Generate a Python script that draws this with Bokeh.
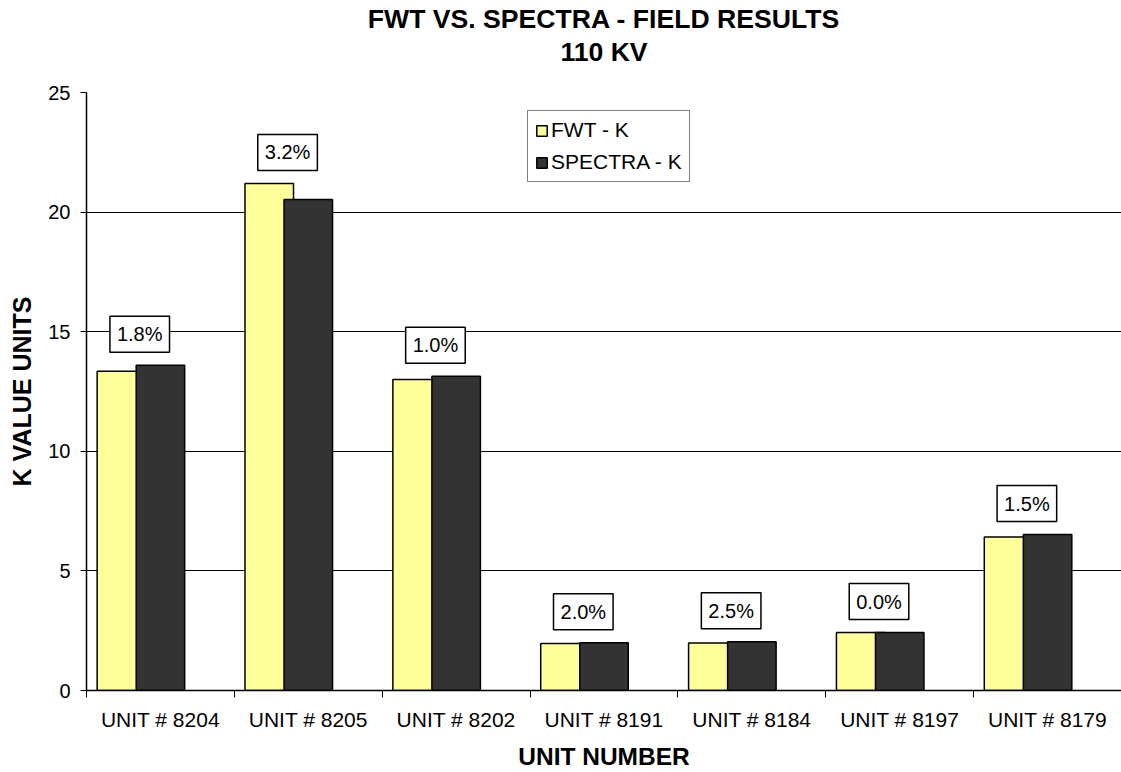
from bokeh.plotting import figure
from bokeh.models import (ColumnDataSource, FixedTicker, Label, Legend, LegendItem,
                          LinearAxis, Range1d, Title)
from bokeh.embed import file_html
from bokeh.resources import INLINE

# --- data -------------------------------------------------------------
units = ["UNIT # 8204", "UNIT # 8205", "UNIT # 8202", "UNIT # 8191",
         "UNIT # 8184", "UNIT # 8197", "UNIT # 8179"]
fwt_k = [13.35, 21.20, 13.00, 1.96, 1.99, 2.42, 6.42]
spectra_k = [13.60, 20.53, 13.14, 2.00, 2.04, 2.42, 6.52]
diff_labels = ["1.8%", "3.2%", "1.0%", "2.0%", "2.5%", "0.0%", "1.5%"]
y_ticks = [0, 5, 10, 15, 20, 25]
title_lines = ["FWT VS. SPECTRA - FIELD RESULTS", "110 KV"]

# --- styling constants --------------------------------------------------
FONT = "Liberation Sans"
FWT_COLOR = "#FFFF99"
SPECTRA_COLOR = "#333333"
BAR_W = 0.328          # bar width in category units
FWT_SHIFT = -0.264     # FWT bar sits left of the category centre
LABEL_SHIFT = -0.14    # difference label centred over the pair

n = len(units)
centers = [i + 0.5 for i in range(n)]

src = ColumnDataSource(dict(
    fwt_x=[c + FWT_SHIFT for c in centers],
    spec_x=centers,
    fwt=fwt_k,
    spec=spectra_k,
))

p = figure(width=1121, height=772,
           x_range=Range1d(0, n), y_range=Range1d(0, 25),
           output_backend="svg", toolbar_location=None, title=None,
           min_border_left=86, min_border_right=0,
           min_border_top=92, min_border_bottom=82)

p.background_fill_color = "white"
p.border_fill_color = "white"
p.outline_line_color = None

xa = p.below[0]
ya = p.left[0]

# heading: second line carried by a bare axis above the plot, first line a title
head_axis = LinearAxis(ticker=FixedTicker(ticks=[]),
                       axis_line_color=None,
                       major_tick_line_color=None, minor_tick_line_color=None,
                       major_tick_out=0, major_tick_in=0,
                       major_label_standoff=0,
                       major_label_text_font_size="0px",
                       axis_label=title_lines[1],
                       axis_label_standoff=26,
                       axis_label_text_font=FONT,
                       axis_label_text_font_size="26.6px",
                       axis_label_text_font_style="bold",
                       axis_label_text_color="black")
p.add_layout(head_axis, "above")
p.add_layout(Title(text=title_lines[0], align="center", text_font=FONT,
                   text_font_size="26.6px", text_font_style="bold",
                   text_color="black", standoff=0), "above")

r_fwt = p.vbar(x="fwt_x", top="fwt", width=BAR_W, source=src,
               fill_color=FWT_COLOR, line_color="black", line_width=1.5)
r_spec = p.vbar(x="spec_x", top="spec", width=BAR_W, source=src,
                fill_color=SPECTRA_COLOR, line_color="black", line_width=1.5)

# difference labels above each pair
for c, a, b, txt in zip(centers, fwt_k, spectra_k, diff_labels):
    p.add_layout(Label(x=c + LABEL_SHIFT, y=max(a, b), y_offset=31,
                       text=txt, text_align="center", text_baseline="middle",
                       text_font=FONT, text_font_size="20px",
                       text_color="black",
                       background_fill_color="white",
                       border_line_color="black", border_line_width=1.5,
                       padding=7))

# x axis: labels at category centres, tick marks on boundaries
xa.ticker = FixedTicker(ticks=centers, minor_ticks=list(range(n + 1)))
xa.major_label_overrides = {c: u for c, u in zip(centers, units)}
xa.major_tick_line_color = None
xa.major_tick_out = 0
xa.major_tick_in = 0
xa.minor_tick_out = 7
xa.minor_tick_in = 0
xa.minor_tick_line_color = "black"
xa.axis_line_color = "black"
xa.axis_line_width = 1.5
xa.major_label_text_font = FONT
xa.major_label_text_font_size = "21px"
xa.major_label_text_color = "black"
xa.major_label_standoff = 10
xa.axis_label = "UNIT NUMBER"
xa.axis_label_text_font = FONT
xa.axis_label_text_font_size = "24.5px"
xa.axis_label_text_font_style = "bold"
xa.axis_label_text_color = "black"
xa.axis_label_standoff = 9

ya.ticker = FixedTicker(ticks=y_ticks)
ya.minor_tick_line_color = None
ya.major_tick_out = 6
ya.major_tick_in = 0
ya.major_tick_line_color = "black"
ya.axis_line_color = "black"
ya.axis_line_width = 1.5
ya.major_label_text_font = FONT
ya.major_label_text_font_size = "20px"
ya.major_label_text_color = "black"
ya.major_label_standoff = 10
ya.axis_label = "K VALUE UNITS"
ya.axis_label_text_font = FONT
ya.axis_label_text_font_size = "25px"
ya.axis_label_text_font_style = "bold"
ya.axis_label_text_color = "black"
ya.axis_label_standoff = 9

p.xgrid.grid_line_color = None
p.ygrid.ticker = FixedTicker(ticks=y_ticks)
p.ygrid.grid_line_color = "black"
p.ygrid.grid_line_width = 1

legend = Legend(items=[LegendItem(label="FWT - K", renderers=[r_fwt]),
                       LegendItem(label="SPECTRA - K", renderers=[r_spec])],
                location=(441, 508), orientation="vertical",
                glyph_width=13, glyph_height=13, label_height=23,
                label_standoff=3, spacing=8, padding=7, margin=0,
                label_text_font=FONT, label_text_font_size="21px",
                label_text_color="black",
                border_line_color="black", border_line_width=1,
                background_fill_color="white", background_fill_alpha=1)
p.add_layout(legend)

open("out.html", "w").write(file_html(p, INLINE))
